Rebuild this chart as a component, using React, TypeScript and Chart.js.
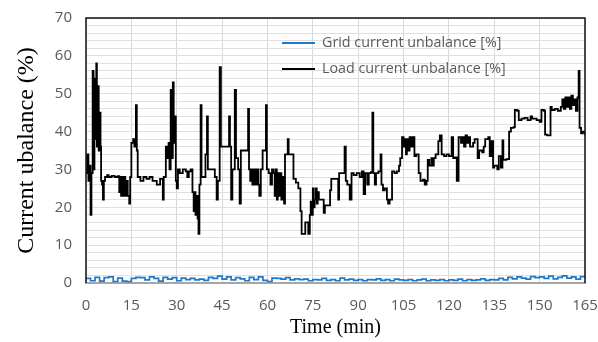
import React, { useEffect, useRef } from "react";
import { Chart, registerables } from "chart.js";

Chart.register(...registerables);

// x-axis ticks (minutes) and y-axis range
const xTicks = [0, 15, 30, 45, 60, 75, 90, 105, 120, 135, 150, 165];
const yMin = 0;
const yMax = 70;

const legendLabels = ["Grid current unbalance [%]", "Load current unbalance [%]"];
const xTitle = "Time (min)";
const yTitle = "Current ubalance (%)";

// Load current unbalance: [time (min), value (%)], value holds until next point
const loadPoints: [number, number][] = [
  [0, 29], [0.4, 34], [0.8, 27], [1.1, 31], [1.5, 18], [1.8, 29], [2.2, 56], [2.5, 30],
  [2.8, 54], [3.1, 38], [3.4, 58], [3.6, 36], [3.9, 52], [4.2, 35], [4.5, 45], [4.8, 36],
  [5.0, 27], [5.3, 26], [5.6, 22], [5.9, 27], [6.3, 28], [7.0, 28.5], [7.5, 28], [8.5, 28.3],
  [9.5, 28], [10.5, 28.2], [11.0, 24], [11.3, 28], [11.6, 23], [12.0, 28], [12.3, 23],
  [12.7, 28], [13.0, 23], [13.4, 27], [13.8, 23], [14.3, 21], [14.6, 28], [15.0, 37],
  [15.6, 38], [16.0, 36], [16.5, 47], [16.8, 35], [17.1, 28], [18, 27], [19, 28], [20, 27.5],
  [21, 28], [22, 27], [23, 27], [23.4, 26], [24.0, 26], [24.5, 27.5], [25.4, 22], [25.7, 28],
  [26.4, 36], [27.0, 33], [27.3, 37], [27.6, 30], [28.0, 51], [28.3, 33], [28.7, 53],
  [29.0, 37], [29.4, 44], [29.7, 27], [30.0, 25], [30.4, 30], [31, 29], [32, 30], [33, 29.5],
  [33.5, 28], [34, 29.5], [34.6, 30], [35.2, 24], [35.6, 19], [35.9, 24], [36.2, 18],
  [36.5, 23], [36.9, 17], [37.2, 13], [37.5, 26], [37.9, 47], [38.2, 28], [39.0, 28],
  [39.5, 34], [40.0, 44], [40.3, 30], [41, 30], [42, 30], [42.6, 28], [43.2, 22], [43.6, 27],
  [44.2, 57], [44.6, 36], [46, 36], [47.1, 36], [47.3, 44], [47.6, 36], [48.0, 22], [48.4, 30],
  [49.2, 51], [49.6, 33], [50.3, 30], [50.8, 21], [51.2, 35], [52, 35], [53.2, 35], [53.6, 46],
  [53.9, 30], [54.3, 27], [54.6, 30], [55, 26], [55.4, 30], [56, 26], [56.5, 30], [57, 26],
  [57.3, 23], [57.8, 30], [58.4, 35], [59.0, 35], [59.5, 47], [59.8, 30], [60.4, 29], [61, 26],
  [61.5, 30], [62.0, 29], [62.4, 23], [62.7, 30], [63.1, 22], [63.4, 29], [63.8, 23],
  [64.2, 29], [64.6, 22], [65.0, 28], [65.5, 21], [65.8, 34], [66.3, 34], [66.7, 38],
  [67.0, 34], [68.0, 34], [68.6, 27.5], [69.4, 26.5], [70.2, 25], [70.9, 19], [71.3, 13],
  [72.3, 13], [72.5, 16], [73.3, 16], [73.5, 13], [74.0, 18], [74.3, 21.5], [74.7, 18],
  [75.0, 25], [75.3, 20], [75.6, 22], [76.0, 25], [76.3, 21], [76.6, 24], [77.0, 22],
  [78.6, 18.5], [79.0, 20.5], [80.7, 24.5], [81.1, 27.5], [83.4, 22], [83.7, 29], [85.5, 36],
  [85.9, 27], [86.4, 26], [87.2, 22], [87.8, 29], [88.5, 28.5], [89.5, 29], [90.5, 28],
  [91.2, 29.5], [91.8, 23.5], [92.3, 29], [93.0, 26], [93.5, 29], [94.2, 29.3], [94.7, 45],
  [95.0, 29], [95.5, 26], [95.9, 29], [96.7, 29.5], [97.4, 34], [97.7, 26], [98.2, 24.5],
  [98.8, 25], [99.5, 22], [99.9, 21], [100.4, 22], [101.2, 29.5], [102, 29], [102.8, 29.5],
  [103.5, 31], [103.9, 33], [104.5, 38.5], [105.0, 36], [105.4, 38], [105.8, 34], [106.1, 38],
  [106.5, 35], [107.0, 38.5], [107.5, 36], [108.0, 38.5], [108.6, 33.5], [109.2, 34],
  [110.0, 29], [110.6, 27], [111.4, 27.3], [112.0, 26], [112.6, 27], [113.0, 32.5], [113.5, 31],
  [114.2, 33], [114.6, 31], [115.0, 33], [115.6, 34], [116.5, 37.5], [117.0, 39], [117.6, 34],
  [118.4, 33.5], [119.2, 34], [120.0, 33.5], [120.9, 38.5], [121.4, 33], [122.0, 33.2],
  [122.6, 27], [123.2, 38.5], [124.0, 37], [124.5, 38.5], [125.0, 36], [125.5, 39], [126.0, 37],
  [126.5, 38.5], [127.0, 36], [128.0, 37], [128.5, 38], [129.5, 33], [130.0, 35], [131.0, 34.5],
  [131.5, 36], [132.0, 38], [133.0, 38.5], [133.5, 33.5], [134.0, 37.5], [134.6, 30.5],
  [135.0, 31], [136.0, 30], [136.5, 33.5], [137.2, 30.5], [137.7, 37.7], [138.0, 32.5],
  [139.0, 32.7], [139.9, 40], [140.5, 41], [141.4, 41.2], [141.8, 45.7], [142.6, 45.5],
  [143.1, 43], [144.0, 43.4], [145.0, 43.6], [146.0, 43], [147.0, 44], [147.5, 43.4],
  [149.0, 43], [150.0, 42.6], [150.6, 45.7], [151.4, 45.5], [151.8, 39.2], [152.5, 39],
  [153.6, 46.5], [154.0, 45.7], [155.0, 46], [156.0, 45.5], [157.0, 46.5], [157.5, 48.5],
  [158.0, 46], [158.5, 49], [159.0, 46.5], [159.5, 49], [160.0, 46], [160.5, 49.5], [161.0, 47],
  [161.5, 48.5], [162.0, 45.5], [162.5, 49], [162.9, 56], [163.2, 41], [163.7, 39.5],
  [164.3, 40], [165, 39],
];

// Grid current unbalance, sampled every 1.5 min from 0 to 165
const gridStep = 1.5;
const gridValues = [
  1.2, 0.6, 1.5, 0.5, 1.4, 1.6, 0.4, 1.3, 0.5, 0.4, 1.2,
  1.5, 1.4, 0.8, 1.6, 1.2, 0.5, 1.5, 1.0, 1.4, 0.6,
  1.3, 0.9, 1.2, 0.8, 1.0, 0.7, 1.5, 1.2, 1.8, 1.0,
  1.6, 0.8, 1.4, 1.1, 0.6, 1.5, 0.9, 1.6, 0.7, 0.4,
  1.3, 1.2, 1.0, 1.4, 0.8, 1.1, 0.9, 1.0, 0.6, 0.9,
  0.8, 1.2, 0.7, 0.9, 0.6, 1.3, 0.8, 1.0, 0.7, 0.9,
  0.6, 0.9, 0.8, 1.1, 0.7, 0.9, 0.6, 1.0, 0.8, 0.7,
  0.9, 0.6, 0.8, 1.0, 0.6, 0.8, 0.7, 0.9, 0.6, 0.8,
  0.7, 1.0, 0.6, 0.9, 0.7, 0.8, 1.1, 0.7, 0.9, 0.8,
  1.2, 0.8, 1.5, 1.1, 1.6, 1.3, 1.0, 1.7, 1.4, 1.6,
  1.2, 1.8, 1.1, 1.5, 1.9, 1.3, 1.6, 1.0, 1.7, 1.4,
];

const GRID_COLOR = "#1f78c8";
const LOAD_COLOR = "#000000";
const TEXT_GRAY = "#595959";

const framePlugin = {
  id: "frameAndLegend",
  afterDatasetsDraw(chart: any) {
    const { ctx, chartArea: a } = chart;
    ctx.save();
    ctx.strokeStyle = "#111";
    ctx.lineWidth = 1.5;
    ctx.beginPath();
    ctx.moveTo(a.left, a.bottom);
    ctx.lineTo(a.left, a.top);
    ctx.lineTo(a.right, a.top);
    ctx.lineTo(a.right, a.bottom);
    ctx.stroke();

    // legend inside plot area
    const colors = [GRID_COLOR, LOAD_COLOR];
    const rows = [43, 69];
    ctx.font = '14.3px "Open Sans"';
    ctx.textBaseline = "middle";
    ctx.textAlign = "left";
    legendLabels.forEach((lbl, i) => {
      ctx.strokeStyle = colors[i];
      ctx.lineWidth = 1.8;
      ctx.beginPath();
      ctx.moveTo(282, rows[i]);
      ctx.lineTo(315, rows[i]);
      ctx.stroke();
      ctx.fillStyle = TEXT_GRAY;
      ctx.fillText(lbl, 322, rows[i]);
    });
    ctx.restore();
  },
};

export default function App() {
  const ref = useRef<HTMLCanvasElement | null>(null);

  useEffect(() => {
    if (!ref.current) return;
    const gridPoints = gridValues.map((v, i) => ({ x: i * gridStep, y: v }));
    const chart = new Chart(ref.current, {
      type: "line",
      data: {
        datasets: [
          {
            label: legendLabels[0],
            data: gridPoints,
            borderColor: GRID_COLOR,
            borderWidth: 1.7,
            pointRadius: 0,
            stepped: true,
            fill: false,
          },
          {
            label: legendLabels[1],
            data: loadPoints.map(([x, y]) => ({ x, y })),
            borderColor: LOAD_COLOR,
            borderWidth: 1.8,
            pointRadius: 0,
            stepped: true,
            fill: false,
          },
        ],
      },
      options: {
        responsive: false,
        animation: false,
        devicePixelRatio: 1,
        layout: { padding: { left: 0, right: 13, top: 18, bottom: 0 } },
        plugins: { legend: { display: false }, tooltip: { enabled: false } },
        scales: {
          x: {
            type: "linear",
            min: xTicks[0],
            max: xTicks[xTicks.length - 1],
            afterBuildTicks: (scale: any) => {
              scale.ticks = xTicks.map((v) => ({ value: v }));
            },
            afterFit: (scale: any) => {
              scale.height = 59;
              scale.paddingLeft = 0;
              scale.paddingRight = 0;
            },
            grid: { color: "#d9d9d9", lineWidth: 1, drawTicks: false },
            border: { display: true, color: "#a6a6a6", width: 2 },
            ticks: {
              padding: 14,
              color: TEXT_GRAY,
              font: { family: '"Open Sans"', size: 15 },
              maxRotation: 0,
              autoSkip: false,
            },
            title: {
              display: true,
              text: xTitle,
              color: "#000",
              font: { family: '"Liberation Serif"', size: 20, lineHeight: 1.2 },
              padding: { top: 0, bottom: 2 },
            },
          },
          y: {
            type: "linear",
            min: yMin,
            max: yMax,
            afterFit: (scale: any) => {
              scale.width = 86;
              scale.paddingTop = 0;
              scale.paddingBottom = 0;
            },
            grid: { color: "#e0e0e0", lineWidth: 1, drawTicks: false },
            border: { display: false },
            ticks: {
              stepSize: 2,
              padding: 14,
              color: TEXT_GRAY,
              font: { family: '"Open Sans"', size: 15 },
              callback: (v: any) => (Number(v) % 10 === 0 ? String(v) : ""),
              autoSkip: false,
            },
            title: {
              display: true,
              text: yTitle,
              color: "#000",
              font: { family: '"Liberation Serif"', size: 24, lineHeight: 1.2 },
              padding: { top: 12, bottom: 0 },
            },
          },
        },
      },
      plugins: [framePlugin],
    });
    return () => chart.destroy();
  }, []);

  return (
    <div style={{ position: "fixed", left: 0, top: 0, width: 598, height: 342, background: "#fff" }}>
      <canvas ref={ref} width={598} height={342} style={{ width: 598, height: 342 }} />
    </div>
  );
}
